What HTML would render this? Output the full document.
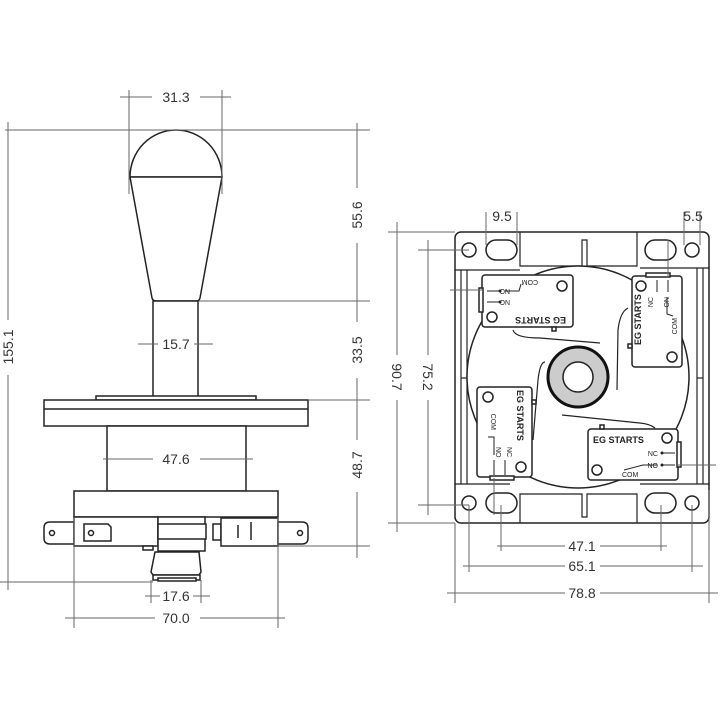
<!DOCTYPE html>
<html><head><meta charset="utf-8"><style>
html,body{margin:0;padding:0;background:#fff;}
svg{display:block;}
text{font-family:"Liberation Sans",sans-serif;fill:#333;}
.d{stroke:#666;stroke-width:1;fill:none;}
.o{stroke:#222;stroke-width:1.5;fill:#fff;}
.t{font-size:14px;}
.s{font-size:7px;fill:#222;}
.b{font-size:9px;font-weight:bold;fill:#222;}
</style></head><body>
<svg width="720" height="720" viewBox="0 0 720 720" xmlns="http://www.w3.org/2000/svg">
<!-- LEFT VIEW -->
<!-- knob -->
<path class="o" d="M130,177 A46,47 0 0 1 222,177 Z"/>
<path class="o" d="M130,177 L152,298 Q153,301 156,301 L197,301 Q199,301 200,298 L222,177 Z"/>
<rect class="o" x="153" y="301" width="45" height="96"/>
<rect class="o" x="96" y="396" width="160" height="4"/>
<rect class="o" x="44" y="400" width="264" height="26"/>
<line class="o" x1="44" y1="409" x2="308" y2="409"/>
<rect class="o" x="107" y="426" width="139" height="65"/>
<rect class="o" x="74" y="491" width="204" height="26"/>
<!-- switches row -->
<path class="o" d="M74,522 L50,522 Q44,522 44,528 L44,538 Q44,544 50,544 L74,544 Z"/>
<circle class="o" cx="52" cy="533" r="2.5"/>
<rect class="o" x="74" y="517" width="84" height="29"/>
<path class="o" d="M84,524 L108,524 L111,527 L111,541 L84,541 Z"/>
<circle class="o" cx="91" cy="533" r="2.5"/>
<rect class="o" x="158" y="517" width="47" height="34"/>
<rect class="o" x="158" y="524" width="48" height="15"/>
<rect class="o" x="143" y="546" width="10" height="4"/>
<rect class="o" x="213" y="524" width="8" height="16"/>
<rect class="o" x="221" y="518" width="57" height="28"/>
<line class="o" x1="238" y1="525" x2="238" y2="538"/>
<line class="o" x1="251" y1="522" x2="251" y2="540"/>
<path class="o" d="M278,522 L302,522 Q308,522 308,528 L308,538 Q308,544 302,544 L278,544 Z"/>
<circle class="o" cx="300" cy="533" r="2.5"/>
<path class="o" d="M155,552 L199,552 L201,572 L199,575 L153,575 L151,572 Z"/>
<rect class="o" x="153" y="575" width="47" height="5"/>
<rect class="o" x="158" y="578" width="38" height="3"/>
<!-- left dims -->
<line class="d" x1="120" y1="97" x2="152" y2="97"/><line class="d" x1="200" y1="97" x2="231" y2="97"/>
<text class="t" x="176" y="102" text-anchor="middle">31.3</text>
<line class="d" x1="129" y1="90" x2="129" y2="194"/><line class="d" x1="222" y1="90" x2="222" y2="194"/>
<line class="d" x1="5" y1="130" x2="370" y2="130"/>
<line class="d" x1="8" y1="122" x2="8" y2="320"/><line class="d" x1="8" y1="375" x2="8" y2="590"/>
<text class="t" transform="translate(13,347) rotate(-90)" text-anchor="middle">155.1</text>
<line class="d" x1="0" y1="582" x2="153" y2="582"/>
<line class="d" x1="357" y1="123" x2="357" y2="188"/><line class="d" x1="357" y1="243" x2="357" y2="322"/>
<line class="d" x1="357" y1="378" x2="357" y2="440"/><line class="d" x1="357" y1="492" x2="357" y2="558"/>
<text class="t" transform="translate(362,215) rotate(-90)" text-anchor="middle">55.6</text>
<text class="t" transform="translate(362,350) rotate(-90)" text-anchor="middle">33.5</text>
<text class="t" transform="translate(362,465) rotate(-90)" text-anchor="middle">48.7</text>
<line class="d" x1="199" y1="301" x2="370" y2="301"/>
<line class="d" x1="308" y1="400" x2="370" y2="400"/>
<line class="d" x1="278" y1="546" x2="370" y2="546"/>
<line class="d" x1="138" y1="344" x2="158" y2="344"/><line class="d" x1="194" y1="344" x2="213" y2="344"/>
<text class="t" x="176" y="349" text-anchor="middle">15.7</text>
<line class="d" x1="103" y1="459" x2="153" y2="459"/><line class="d" x1="200" y1="459" x2="253" y2="459"/>
<text class="t" x="176" y="464" text-anchor="middle">47.6</text>
<line class="d" x1="145" y1="596" x2="160" y2="596"/><line class="d" x1="193" y1="596" x2="210" y2="596"/>
<line class="d" x1="151" y1="580" x2="151" y2="603"/><line class="d" x1="201" y1="580" x2="201" y2="603"/>
<text class="t" x="176" y="601" text-anchor="middle">17.6</text>
<line class="d" x1="65" y1="618" x2="155" y2="618"/><line class="d" x1="200" y1="618" x2="285" y2="618"/>
<line class="d" x1="74" y1="517" x2="74" y2="628"/><line class="d" x1="278" y1="517" x2="278" y2="628"/>
<text class="t" x="176" y="623" text-anchor="middle">70.0</text>

<!-- RIGHT VIEW -->
<rect class="o" x="455" y="232" width="254" height="291" rx="6"/>
<!-- frame lines -->
<g class="o" style="fill:none;stroke-width:1.2">
<line x1="455" y1="270" x2="520" y2="270"/><line x1="455" y1="484" x2="510" y2="484"/>
<line x1="461" y1="270" x2="461" y2="484"/><line x1="467" y1="270" x2="467" y2="484"/>
<line x1="703" y1="268" x2="703" y2="484"/><line x1="697" y1="268" x2="697" y2="484"/>
<line x1="640" y1="268" x2="709" y2="268"/><line x1="640" y1="484" x2="709" y2="484"/>
<path d="M520,232 L520,266 L582,266 L582,240 L587,240 L587,266 L637,266 L637,232"/>
<path d="M520,523 L520,494 L582,494 L582,517 L587,517 L587,494 L637,494 L637,523"/>
<line x1="461" y1="378" x2="467" y2="378"/><line x1="697" y1="378" x2="703" y2="378"/>
</g>
<circle class="o" cx="578" cy="377" r="111"/>
<circle cx="578" cy="377" r="30" fill="#ccc" stroke="#111" stroke-width="3"/>
<circle class="o" cx="578" cy="377" r="15"/>
<!-- arms -->
<g stroke="#222" stroke-width="1.2" fill="none">
<path d="M513,330 Q515,338 540,338 L600,343"/>
<path d="M628,308 Q620,312 618,330 L617,390"/>
<path d="M545,362 Q540,362 538,380 L533,440"/>
<path d="M562,415 L640,423 Q650,424 655,428"/>
</g>
<!-- holes -->
<g class="o">
<circle cx="469" cy="250" r="7"/><rect x="486" y="240" width="31" height="20" rx="10"/>
<rect x="645" y="240" width="31" height="20" rx="10"/><circle cx="692" cy="250" r="7"/>
<circle cx="469" cy="503" r="7"/><rect x="486" y="493" width="31" height="20" rx="10"/>
<rect x="645" y="493" width="31" height="20" rx="10"/><circle cx="692" cy="503" r="7"/>
</g>
<!-- switch TL -->
<rect class="o" x="482" y="275" width="91" height="52" rx="3"/>
<rect class="o" x="479" y="288" width="4" height="24"/>
<circle class="o" cx="562" cy="286" r="5"/><circle class="o" cx="492" cy="317" r="5"/>
<line class="d" x1="450" y1="290" x2="482" y2="290"/>
<g stroke="#222" stroke-width="1"><line x1="487" y1="291" x2="500" y2="291"/><line x1="487" y1="302" x2="500" y2="302"/><path d="M505,291 L519,291 L521,284" fill="none"/></g>
<circle cx="500" cy="291" r="1.5" fill="#222"/><circle cx="500" cy="302" r="1.5" fill="#222"/>
<text class="s" transform="translate(510,289) rotate(180)">NO</text>
<text class="s" transform="translate(510,300) rotate(180)">NC</text>
<text class="s" transform="translate(538,280) rotate(180)">COM</text>
<text class="b" transform="translate(566,317) rotate(180)">EG STARTS</text>
<rect class="o" x="552" y="327" width="4" height="4"/>
<!-- switch TR -->
<rect class="o" x="632" y="276" width="50" height="91" rx="3"/>
<rect class="o" x="646" y="273" width="24" height="4"/>
<circle class="o" cx="641" cy="286" r="5"/><circle class="o" cx="672" cy="357" r="5"/>
<line class="d" x1="668" y1="240" x2="668" y2="276"/>
<g stroke="#222" stroke-width="1"><line x1="657" y1="280" x2="657" y2="292"/><line x1="668" y1="280" x2="668" y2="292"/><path d="M667,297 L667,314 L673,316" fill="none"/></g>
<text class="s" transform="translate(653,297) rotate(-90)" text-anchor="end">NC</text>
<text class="s" transform="translate(664,297) rotate(90)">NO</text>
<text class="s" transform="translate(677,318) rotate(-90)" text-anchor="end">COM</text>
<text class="b" transform="translate(641,345) rotate(-90)">EG STARTS</text>
<rect class="o" x="628" y="344" width="4" height="4"/>
<!-- switch BL -->
<rect class="o" x="477" y="387" width="55" height="90" rx="3"/>
<rect class="o" x="490" y="476" width="24" height="4"/>
<circle class="o" cx="488" cy="397" r="5"/><circle class="o" cx="521" cy="467" r="5"/>
<line class="d" x1="494" y1="478" x2="494" y2="515"/>
<g stroke="#222" stroke-width="1"><line x1="494" y1="460" x2="494" y2="475"/><line x1="505" y1="460" x2="505" y2="475"/><path d="M488,437 L494,437 L494,455" fill="none"/></g>
<text class="s" transform="translate(491,430) rotate(90)" text-anchor="end">COM</text>
<text class="s" transform="translate(496,447) rotate(90)">NO</text>
<text class="s" transform="translate(507,447) rotate(90)">NC</text>
<text class="b" transform="translate(517,390) rotate(90)">EG STARTS</text>
<rect class="o" x="532" y="400" width="4" height="4"/>
<!-- switch BR -->
<rect class="o" x="588" y="429" width="90" height="51" rx="3"/>
<rect class="o" x="677" y="442" width="4" height="25"/>
<circle class="o" cx="667" cy="438" r="5"/><circle class="o" cx="597" cy="470" r="5"/>
<line class="d" x1="678" y1="465" x2="716" y2="465"/>
<g stroke="#222" stroke-width="1"><line x1="662" y1="453" x2="675" y2="453"/><line x1="662" y1="465" x2="675" y2="465"/><path d="M624,470 L643,465 L657,465" fill="none"/></g>
<circle cx="662" cy="453" r="1.5" fill="#222"/><circle cx="662" cy="465" r="1.5" fill="#222"/>
<text class="s" x="658" y="456" text-anchor="end">NC</text>
<text class="s" x="658" y="468" text-anchor="end">NO</text>
<text class="s" x="622" y="477">COM</text>
<text class="b" x="593" y="443">EG STARTS</text>
<rect class="o" x="600" y="425" width="4" height="4"/>
<!-- right dims -->
<line class="d" x1="388" y1="232" x2="455" y2="232"/><line class="d" x1="388" y1="523" x2="455" y2="523"/>
<line class="d" x1="397" y1="222" x2="397" y2="355"/><line class="d" x1="397" y1="400" x2="397" y2="532"/>
<text class="t" transform="translate(392,377) rotate(90)" text-anchor="middle">90.7</text>
<line class="d" x1="418" y1="250" x2="469" y2="250"/><line class="d" x1="418" y1="505" x2="469" y2="505"/>
<line class="d" x1="428" y1="240" x2="428" y2="355"/><line class="d" x1="428" y1="400" x2="428" y2="515"/>
<text class="t" transform="translate(423,377) rotate(90)" text-anchor="middle">75.2</text>
<line class="d" x1="486" y1="212" x2="486" y2="245"/><line class="d" x1="517" y1="212" x2="517" y2="245"/>
<text class="t" x="502" y="221" text-anchor="middle">9.5</text>
<line class="d" x1="684" y1="212" x2="684" y2="245"/><line class="d" x1="700" y1="212" x2="700" y2="245"/>
<text class="t" x="693" y="221" text-anchor="middle">5.5</text>
<line class="d" x1="501" y1="505" x2="501" y2="551"/><line class="d" x1="661" y1="505" x2="661" y2="551"/>
<line class="d" x1="497" y1="546" x2="565" y2="546"/><line class="d" x1="600" y1="546" x2="667" y2="546"/>
<text class="t" x="582" y="551" text-anchor="middle">47.1</text>
<line class="d" x1="469" y1="505" x2="469" y2="572"/><line class="d" x1="692" y1="505" x2="692" y2="572"/>
<line class="d" x1="463" y1="566" x2="565" y2="566"/><line class="d" x1="600" y1="566" x2="703" y2="566"/>
<text class="t" x="582" y="571" text-anchor="middle">65.1</text>
<line class="d" x1="455" y1="523" x2="455" y2="603"/><line class="d" x1="709" y1="490" x2="709" y2="603"/>
<line class="d" x1="447" y1="593" x2="565" y2="593"/><line class="d" x1="600" y1="593" x2="718" y2="593"/>
<text class="t" x="582" y="598" text-anchor="middle">78.8</text>
</svg>
</body></html>
